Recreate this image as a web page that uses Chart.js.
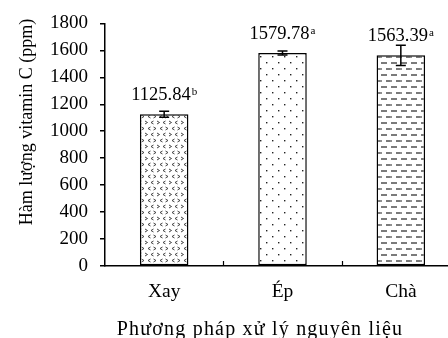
<!DOCTYPE html>
<html>
<head>
<meta charset="utf-8">
<script src="https://cdn.jsdelivr.net/npm/chart.js@4/dist/chart.umd.min.js"></script>
<style>
  html, body { margin: 0; padding: 0; background: #fff; overflow: hidden; }
  #wrap { width: 460px; height: 338px; }
</style>
</head>
<body>
<div id="wrap"><canvas id="c" width="460" height="338"></canvas></div>
<script>
// Vitamin C content by raw-material processing method
const methods = ['Xay', 'Ép', 'Chà'];
const vitaminC = [1125.84, 1579.78, 1563.39];
const stdErr = [22, 15, 75];
const groupLetters = ['b', 'a', 'a'];
const yTicks = [0, 200, 400, 600, 800, 1000, 1200, 1400, 1600, 1800];
const xTitle = 'Phương pháp xử lý nguyên liệu';
const yTitle = 'Hàm lượng vitamin C (ppm)';

const FONT = '"Liberation Serif", "Times New Roman", serif';

// Hatch fills for the three bars
function makePattern(kind) {
  const c = document.createElement('canvas');
  const ctx = c.getContext('2d');
  if (kind === 'chevron') {
    c.width = 12; c.height = 12;
    ctx.fillStyle = '#fff'; ctx.fillRect(0, 0, 12, 12);
    ctx.strokeStyle = '#333'; ctx.lineWidth = 0.9;
    const mark = (x, y, dir) => {
      ctx.beginPath();
      if (dir > 0) { ctx.moveTo(x, y); ctx.lineTo(x + 2.5, y + 1.5); ctx.lineTo(x, y + 3); }
      else { ctx.moveTo(x + 2.5, y); ctx.lineTo(x, y + 1.5); ctx.lineTo(x + 2.5, y + 3); }
      ctx.stroke();
    };
    mark(1, 1, 1); mark(7, 1, -1);
    mark(4, 7, -1); mark(9.5, 7, 1);
  } else if (kind === 'dots') {
    c.width = 12; c.height = 12;
    ctx.fillStyle = '#fff'; ctx.fillRect(0, 0, 12, 12);
    ctx.fillStyle = '#222';
    ctx.fillRect(2, 2, 1.4, 1.4);
    ctx.fillRect(8, 8, 1.4, 1.4);
  } else {
    c.width = 10; c.height = 12;
    ctx.fillStyle = '#fff'; ctx.fillRect(0, 0, 10, 12);
    ctx.strokeStyle = '#222'; ctx.lineWidth = 1.2;
    ctx.beginPath(); ctx.moveTo(1, 3); ctx.lineTo(7, 3); ctx.stroke();
    ctx.beginPath(); ctx.moveTo(6, 9); ctx.lineTo(10, 9); ctx.stroke();
    ctx.beginPath(); ctx.moveTo(0, 9); ctx.lineTo(2, 9); ctx.stroke();
  }
  return ctx.createPattern(c, 'repeat');
}

const fills = [makePattern('chevron'), makePattern('dots'), makePattern('dash')];

// Error bars, value labels with superscript letters, inner category ticks, axis titles
const decorations = {
  id: 'decorations',
  afterDatasetsDraw(chart) {
    const ctx = chart.ctx;
    const y = chart.scales.y;
    const meta = chart.getDatasetMeta(0);
    ctx.save();
    // error bars
    ctx.strokeStyle = '#000';
    ctx.lineWidth = 1.5;
    meta.data.forEach((bar, i) => {
      const top = y.getPixelForValue(vitaminC[i] + stdErr[i]);
      const bot = y.getPixelForValue(vitaminC[i] - stdErr[i]);
      const cx = bar.x;
      ctx.beginPath();
      ctx.moveTo(cx, top); ctx.lineTo(cx, bot);
      ctx.moveTo(cx - 5, top); ctx.lineTo(cx + 5, top);
      ctx.moveTo(cx - 5, bot); ctx.lineTo(cx + 5, bot);
      ctx.stroke();
    });
    // value labels
    ctx.fillStyle = '#000';
    ctx.textBaseline = 'alphabetic';
    ctx.textAlign = 'left';
    meta.data.forEach((bar, i) => {
      const main = vitaminC[i].toFixed(2);
      ctx.font = '18.5px ' + FONT;
      const w1 = ctx.measureText(main).width;
      ctx.font = '11px ' + FONT;
      const w2 = ctx.measureText(groupLetters[i]).width;
      const total = w1 + 1 + w2;
      const x0 = bar.x - total / 2;
      const base = y.getPixelForValue(vitaminC[i]) - 14;
      ctx.font = '18.5px ' + FONT;
      ctx.fillText(main, x0, base);
      ctx.font = '11px ' + FONT;
      ctx.fillText(groupLetters[i], x0 + w1 + 1, base - 5);
    });
    // short inward ticks between categories
    const area = chart.chartArea;
    const step = (area.right - area.left) / methods.length;
    ctx.lineWidth = 1.2;
    ctx.beginPath();
    for (let k = 1; k < methods.length; k++) {
      const px = Math.round(area.left + k * step) + 0.5;
      ctx.moveTo(px, area.bottom);
      ctx.lineTo(px, area.bottom - 5);
    }
    ctx.stroke();
    // x axis title
    ctx.font = '20px ' + FONT;
    ctx.textAlign = 'center';
    ctx.textBaseline = 'alphabetic';
    if ('letterSpacing' in ctx) ctx.letterSpacing = '1.2px';
    ctx.fillText(xTitle, 260, 335);
    if ('letterSpacing' in ctx) ctx.letterSpacing = '0px';
    // y axis title
    ctx.font = '18px ' + FONT;
    ctx.translate(31.5, 122);
    ctx.rotate(-Math.PI / 2);
    ctx.fillText(yTitle, 0, 0);
    ctx.restore();
  }
};

new Chart(document.getElementById('c'), {
  type: 'bar',
  data: {
    labels: methods,
    datasets: [{
      data: vitaminC,
      backgroundColor: fills,
      borderColor: '#000',
      borderWidth: 1.5,
      borderSkipped: false,
      barPercentage: 0.41,
      categoryPercentage: 1.0
    }]
  },
  options: {
    responsive: false,
    animation: false,
    events: [],
    layout: { padding: { top: 12, right: 0, bottom: 0, left: 0 } },
    plugins: { legend: { display: false }, tooltip: { enabled: false } },
    scales: {
      y: {
        min: 0, max: 1800,
        afterFit(scale) { scale.width = 105; },
        afterBuildTicks(scale) { scale.ticks = yTicks.map(v => ({ value: v })); },
        ticks: { color: '#000', font: { family: FONT, size: 19 }, padding: 12, callback: v => String(v) },
        grid: { display: true, drawOnChartArea: false, drawTicks: true, tickLength: 5, color: '#000', lineWidth: 1.5 },
        border: { display: true, color: '#000', width: 1.5 }
      },
      x: {
        afterFit(scale) { scale.height = 72; },
        ticks: { color: '#000', font: { family: FONT, size: 19.5 }, padding: 14 },
        grid: { display: false, drawTicks: false },
        border: { display: true, color: '#000', width: 1.5 }
      }
    }
  },
  plugins: [decorations]
});
</script>
</body>
</html>
